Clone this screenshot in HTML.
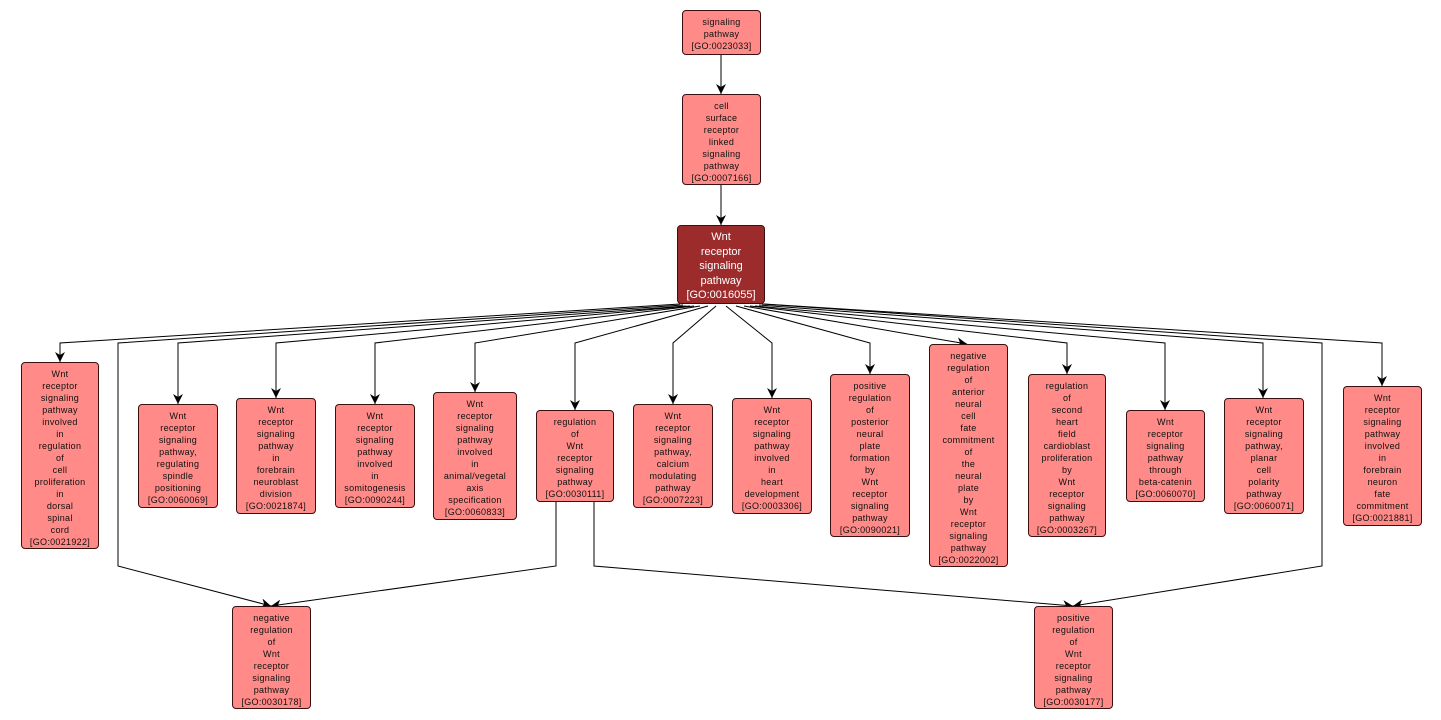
<!DOCTYPE html>
<html><head><meta charset="utf-8"><style>
body{margin:0;background:#fff;width:1441px;height:720px;position:relative;overflow:hidden;font-family:"Liberation Sans",sans-serif}
.n{position:absolute;box-sizing:border-box;background:#ff8a87;border:1px solid #3a1010;border-radius:4px;text-align:center;font-size:9px;line-height:12px;color:#111;padding-top:5px;letter-spacing:0.3px}
.d{background:#9c2b2b;color:#fff;font-size:11px;line-height:14.5px;padding-top:4px;letter-spacing:0}
svg{position:absolute;left:0;top:0}
</style></head><body>
<svg width="1441" height="720">
<defs><marker id="a" markerWidth="10" markerHeight="10" refX="5" refY="8" orient="auto" markerUnits="userSpaceOnUse"><path d="M0,1 L5,8 L10,1 L5,4 Z" fill="#000" transform="rotate(-90 5 5)"/></marker>
<marker id="b" viewBox="0 0 10 10" refX="10" refY="5" markerWidth="10" markerHeight="10" orient="auto" markerUnits="userSpaceOnUse"><path d="M0,0 L10,5 L0,10 L3,5 Z" fill="#000"/></marker></defs>
<g fill="none" stroke="#000" stroke-width="1" marker-end="url(#b)">
<path d="M721,54 V94"/>
<path d="M721,184 V225"/>
<path d="M680,304 L60,343 V362"/>
<path d="M683,305 L118,343 V566 L271,606"/>
<path d="M686,306 L178,343 V404"/>
<path d="M690,306 L276,343 V398"/>
<path d="M694,306 L375,343 V404"/>
<path d="M700,306 L475,343 V392"/>
<path d="M708,306 L575,343 V410"/>
<path d="M716,306 L673,343 V404"/>
<path d="M726,306 L772,343 V398"/>
<path d="M736,306 L870,343 V374"/>
<path d="M744,306 L967,344"/>
<path d="M750,306 L1067,343 V374"/>
<path d="M755,306 L1165,343 V410"/>
<path d="M759,305 L1263,343 V398"/>
<path d="M762,304 L1322,343 V566 L1073,606"/>
<path d="M764,304 L1382,343 V386"/>
<path d="M556,501 V566 L271,606"/>
<path d="M594,501 V566 L1073,606"/>
</g></svg>
<div class="n" style="left:682px;top:10px;width:79px;height:45px">signaling<br>pathway<br>[GO:0023033]</div>
<div class="n" style="left:682px;top:94px;width:79px;height:91px">cell<br>surface<br>receptor<br>linked<br>signaling<br>pathway<br>[GO:0007166]</div>
<div class="n d" style="left:677px;top:225px;width:88px;height:79px">Wnt<br>receptor<br>signaling<br>pathway<br>[GO:0016055]</div>
<div class="n" style="left:21px;top:362px;width:78px;height:187px">Wnt<br>receptor<br>signaling<br>pathway<br>involved<br>in<br>regulation<br>of<br>cell<br>proliferation<br>in<br>dorsal<br>spinal<br>cord<br>[GO:0021922]</div>
<div class="n" style="left:138px;top:404px;width:80px;height:104px">Wnt<br>receptor<br>signaling<br>pathway,<br>regulating<br>spindle<br>positioning<br>[GO:0060069]</div>
<div class="n" style="left:236px;top:398px;width:80px;height:116px">Wnt<br>receptor<br>signaling<br>pathway<br>in<br>forebrain<br>neuroblast<br>division<br>[GO:0021874]</div>
<div class="n" style="left:335px;top:404px;width:80px;height:104px">Wnt<br>receptor<br>signaling<br>pathway<br>involved<br>in<br>somitogenesis<br>[GO:0090244]</div>
<div class="n" style="left:433px;top:392px;width:84px;height:128px">Wnt<br>receptor<br>signaling<br>pathway<br>involved<br>in<br>animal/vegetal<br>axis<br>specification<br>[GO:0060833]</div>
<div class="n" style="left:536px;top:410px;width:78px;height:92px">regulation<br>of<br>Wnt<br>receptor<br>signaling<br>pathway<br>[GO:0030111]</div>
<div class="n" style="left:633px;top:404px;width:80px;height:104px">Wnt<br>receptor<br>signaling<br>pathway,<br>calcium<br>modulating<br>pathway<br>[GO:0007223]</div>
<div class="n" style="left:732px;top:398px;width:80px;height:116px">Wnt<br>receptor<br>signaling<br>pathway<br>involved<br>in<br>heart<br>development<br>[GO:0003306]</div>
<div class="n" style="left:830px;top:374px;width:80px;height:163px">positive<br>regulation<br>of<br>posterior<br>neural<br>plate<br>formation<br>by<br>Wnt<br>receptor<br>signaling<br>pathway<br>[GO:0090021]</div>
<div class="n" style="left:929px;top:344px;width:79px;height:223px">negative<br>regulation<br>of<br>anterior<br>neural<br>cell<br>fate<br>commitment<br>of<br>the<br>neural<br>plate<br>by<br>Wnt<br>receptor<br>signaling<br>pathway<br>[GO:0022002]</div>
<div class="n" style="left:1028px;top:374px;width:78px;height:163px">regulation<br>of<br>second<br>heart<br>field<br>cardioblast<br>proliferation<br>by<br>Wnt<br>receptor<br>signaling<br>pathway<br>[GO:0003267]</div>
<div class="n" style="left:1126px;top:410px;width:79px;height:92px">Wnt<br>receptor<br>signaling<br>pathway<br>through<br>beta-catenin<br>[GO:0060070]</div>
<div class="n" style="left:1224px;top:398px;width:80px;height:116px">Wnt<br>receptor<br>signaling<br>pathway,<br>planar<br>cell<br>polarity<br>pathway<br>[GO:0060071]</div>
<div class="n" style="left:1343px;top:386px;width:79px;height:140px">Wnt<br>receptor<br>signaling<br>pathway<br>involved<br>in<br>forebrain<br>neuron<br>fate<br>commitment<br>[GO:0021881]</div>
<div class="n" style="left:232px;top:606px;width:79px;height:103px">negative<br>regulation<br>of<br>Wnt<br>receptor<br>signaling<br>pathway<br>[GO:0030178]</div>
<div class="n" style="left:1034px;top:606px;width:79px;height:103px">positive<br>regulation<br>of<br>Wnt<br>receptor<br>signaling<br>pathway<br>[GO:0030177]</div>
</body></html>
